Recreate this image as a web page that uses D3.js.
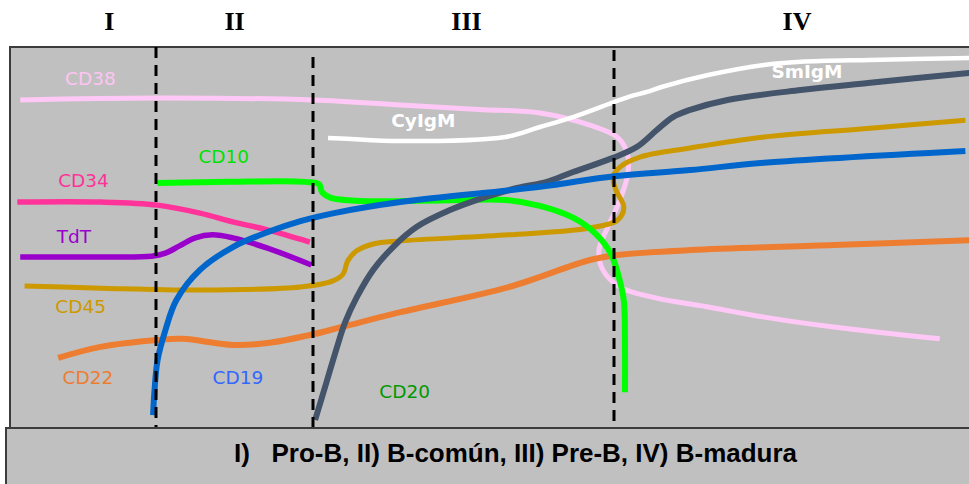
<!DOCTYPE html>
<html>
<head>
<meta charset="utf-8">
<script src="https://cdn.jsdelivr.net/npm/d3@7"></script>
<style>
  html, body { margin: 0; padding: 0; background: #ffffff; }
  svg { display: block; }
</style>
</head>
<body>
<script>
// ---- DATA (x = maturation stage units, boundaries at 1,2,3; y = expression level 0-100) ----
const stages = ["I", "II", "III", "IV"];
const stageLabelPos = [0.68, 1.5, 2.51, 3.5];
const boundaries = [1, 2, 3];
const boundaryTop = [100, 97.4, 99.2];
const caption = "I)   Pro-B, II) B-común, III) Pre-B, IV) B-madura";

const cd38 = [[0.07,86.1],[1.01,86.6],[2.0,86.1],[2.29,84.8],[2.55,83.6],[2.754,82.7],[2.92,79.5],[3.008,76.4],[3.036,72.2],[3.038,66.9],[3.016,59.8],[2.98,52.8],[2.95,46.7],[2.963,41.5],[3.016,37.0],[3.117,34.1],[3.25,31.9],[3.41,29.1],[3.60,26.5],[3.89,23.4]];
const cd22 = [[0.33,18.4],[0.62,21.3],[1.01,23.1],[1.17,23.4],[1.49,21.8],[1.71,22.3],[1.98,24.4],[2.1,26.6],[2.29,30.4],[2.65,37.0],[2.92,44.1],[3.01,45.4],[3.21,46.7],[3.60,48.0],[3.97,49.3],[4.1,49.7]];
const cd45 = [[0.10,37.3],[0.62,36.7],[1.28,36.2],[1.92,37.0],[2.066,38.6],[2.10,40.4],[2.115,43.8],[2.145,46.5],[2.2,48.3],[2.29,49.1],[2.65,50.7],[2.92,52.5],[3.01,54.6],[3.027,57.9],[3.005,62.5],[2.997,65.9],[3.016,68.5],[3.071,71.1],[3.208,73.5],[3.41,76.4],[3.70,78.7],[3.96,80.8]];
const cd34 = [[0.05,59.3],[0.62,59.3],[1.01,58.5],[1.28,56.4],[1.49,54.1],[1.71,52.0],[1.98,48.8]];
const tdt  = [[0.07,44.9],[0.62,44.9],[0.97,45.1],[1.06,45.9],[1.15,47.8],[1.25,49.9],[1.36,50.7],[1.49,49.9],[1.71,47.2],[1.99,42.8]];
const cd10 = [[1.01,64.3],[1.47,64.6],[1.95,64.6],[2.02,64.0],[2.03,61.9],[2.06,60.4],[2.16,59.6],[2.46,59.8],[2.65,59.8],[2.754,58.3],[2.864,55.2],[2.94,50.9],[2.99,45.7],[3.016,38.6],[3.027,33.3],[3.03,21.3],[3.03,9.4]];
const cd20 = [[2.007,2.1],[2.047,12.6],[2.08,21.3],[2.106,27.6],[2.146,34.4],[2.20,41.5],[2.266,47.5],[2.345,52.8],[2.455,57.2],[2.565,60.4],[2.678,63.0],[2.777,64.6],[2.864,67.2],[2.997,70.9],[3.063,73.8],[3.117,78.2],[3.161,81.6],[3.208,83.5],[3.31,86.1],[3.51,88.7],[3.70,90.6],[3.97,93.2],[4.1,94.2]];
const cd19 = [[0.98,3.4],[0.99,10.0],[1.01,17.8],[1.06,25.7],[1.13,33.6],[1.28,41.5],[1.49,47.5],[1.71,51.4],[1.92,54.3],[2.07,56.4],[2.29,59.3],[2.754,63.3],[3.0,66.1],[3.208,67.7],[3.41,69.6],[3.96,72.7]];
const igm  = [[2.05,76.1],[2.11,75.9],[2.29,75.3],[2.64,76.4],[2.754,79.0],[2.864,81.6],[3.04,86.9],[3.09,88.2],[3.13,89.5],[3.26,92.7],[3.41,95.3],[3.51,96.1],[3.70,96.6],[3.97,97.1],[4.1,97.2]];

const seriesNames = ["CD38","CD22","CD45","CD34","TdT","CD10","CD20","CD19","IgM"];
const seriesData  = [cd38, cd22, cd45, cd34, tdt, cd10, cd20, cd19, igm];

const labelNames = ["CD38","CD10","CD34","TdT","CD45","CD22","CD19","CD20","CyIgM","SmIgM"];
const labelAt    = [[0.377,90.0],[1.27,69.6],[0.33,63.3],[0.32,48.6],[0.31,30.2],[0.36,11.5],[1.36,11.5],[2.22,7.9],[2.26,79.0],[3.43,91.9]];

// ---- STYLES ----
const lineColor = {CD38:"#ffc8f6", CD22:"#ed7d31", CD45:"#cc9900", CD34:"#ff3399", TdT:"#9900cc", CD10:"#00ff00", CD20:"#44546a", CD19:"#0066cc", IgM:"#ffffff"};
const lineWidth = {CD38:5, CD22:6, CD45:5, CD34:5.5, TdT:5.5, CD10:6, CD20:6, CD19:6, IgM:4.5};
const labelColor = {CD38:"#ffc4f2", CD10:"#00e000", CD34:"#ff3399", TdT:"#9900cc", CD45:"#cc9900", CD22:"#ed7d31", CD19:"#3366ff", CD20:"#009900", CyIgM:"#ffffff", SmIgM:"#ffffff"};

const W = 969, H = 484;
const panel = {left: 10, right: 980, top: 47, bottom: 428};

const x = d3.scaleLinear().domain([0,1,2,3,4]).range([panel.left,156,313,614,panel.right]);
const y = d3.scaleLinear().domain([0,100]).range([panel.bottom, panel.top]);

const svg = d3.select("body").append("svg").attr("width", W).attr("height", H);

// panel
svg.append("rect").attr("x", panel.left).attr("y", panel.top)
  .attr("width", panel.right - panel.left).attr("height", panel.bottom - panel.top)
  .attr("fill", "#c0c0c0").attr("stroke", "#3c3c3c").attr("stroke-width", 2);

// stage labels
svg.append("g").selectAll("text").data(stages).join("text")
  .attr("x", (d,i) => x(stageLabelPos[i])).attr("y", 30)
  .attr("text-anchor", "middle")
  .attr("font-family", "'Liberation Serif', 'Times New Roman', serif")
  .attr("font-weight", "bold").attr("font-size", 26).attr("fill", "#000")
  .text(d => d);

// curves
const line = d3.line().x(d => x(d[0])).y(d => y(d[1])).curve(d3.curveCatmullRom.alpha(0.5));
const g = svg.append("g");
g.selectAll("path").data(seriesNames).join("path")
  .attr("d", (d,i) => line(seriesData[i]))
  .attr("fill", "none")
  .attr("stroke", d => lineColor[d])
  .attr("stroke-width", d => lineWidth[d])
  .attr("stroke-linecap", "butt")
  .attr("stroke-linejoin", "round");

// boundary dashed lines
svg.append("g").selectAll("line").data(boundaries).join("line")
  .attr("x1", d => x(d)).attr("x2", d => x(d))
  .attr("y1", (d,i) => y(boundaryTop[i])).attr("y2", y(0))
  .attr("stroke", "#000").attr("stroke-width", 3)
  .attr("stroke-dasharray", "11,7");

// series labels
svg.append("g").selectAll("text").data(labelNames).join("text")
  .attr("x", (d,i) => x(labelAt[i][0])).attr("y", (d,i) => y(labelAt[i][1]))
  .attr("font-family", "'DejaVu Sans', sans-serif")
  .attr("font-size", 18.5)
  .attr("font-weight", d => (d === "CyIgM" || d === "SmIgM") ? "bold" : "normal")
  .attr("fill", d => labelColor[d])
  .text(d => d);

// caption box
svg.append("rect").attr("x", 6).attr("y", panel.bottom)
  .attr("width", 980).attr("height", 70)
  .attr("fill", "#c0c0c0").attr("stroke", "#3c3c3c").attr("stroke-width", 2);

svg.append("text")
  .attr("x", 234).attr("y", 462)
  .attr("font-family", "'Liberation Sans', Arial, sans-serif")
  .attr("font-weight", "bold").attr("font-size", 25)
  .attr("textLength", 563).attr("lengthAdjust", "spacingAndGlyphs")
  .style("white-space", "pre")
  .attr("fill", "#000")
  .text(caption);
</script>
</body>
</html>
